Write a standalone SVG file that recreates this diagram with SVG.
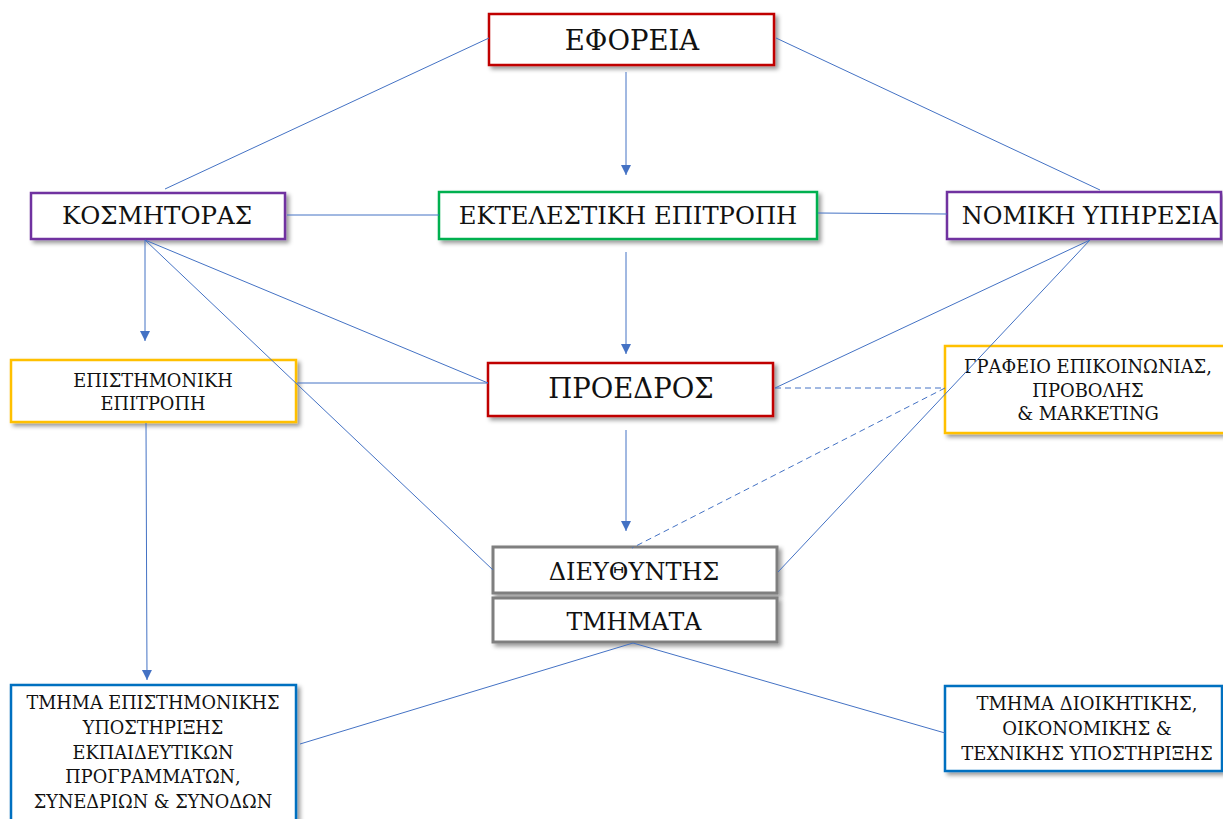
<svg xmlns="http://www.w3.org/2000/svg" width="1223" height="819" viewBox="0 0 1223 819">
<style>
.box{fill:#fff;stroke-width:2.5;filter:url(#sh)}
.red{stroke:#C00000}
.pur{stroke:#7030A0}
.grn{stroke:#00B050}
.yel{stroke:#FFC000}
.gry{stroke:#7F7F7F;stroke-width:3}
.blu{stroke:#0070C0}
.t{font-family:"DejaVu Serif","Liberation Serif",serif;fill:#111;text-anchor:middle}
.c{stroke:#4472C4;stroke-width:1;fill:none}
.d{stroke-dasharray:6,4}
.a{marker-end:url(#ar)}
</style>
<defs>
<filter id="sh" x="-10%" y="-20%" width="130%" height="150%">
<feDropShadow dx="3" dy="3" stdDeviation="2" flood-color="#000" flood-opacity="0.4"/>
</filter>
<marker id="ar" viewBox="0 0 10 10" refX="10" refY="5" markerWidth="10" markerHeight="12" markerUnits="userSpaceOnUse" orient="auto">
<path d="M0,0 L10,5 L0,10 z" fill="#4472C4"/>
</marker>
</defs>
<rect width="1223" height="819" fill="#fff"/>
<g id="eforeia">
<rect class="box red" x="489" y="14" width="285" height="51"/>
<text class="t" x="632" y="50" font-size="27.5">ΕΦΟΡΕΙΑ</text>
</g>
<g id="kosmitoras">
<rect class="box pur" x="31" y="193" width="254" height="46"/>
<text class="t" x="157" y="224" font-size="24.5">ΚΟΣΜΗΤΟΡΑΣ</text>
</g>
<g id="ektelestiki">
<rect class="box grn" x="439" y="192" width="378" height="47"/>
<text class="t" x="628" y="224" font-size="24.3">ΕΚΤΕΛΕΣΤΙΚΗ ΕΠΙΤΡΟΠΗ</text>
</g>
<g id="nomiki">
<rect class="box pur" x="947" y="192" width="274" height="47"/>
<text class="t" x="1090" y="224" font-size="24">ΝΟΜΙΚΗ ΥΠΗΡΕΣΙΑ</text>
</g>
<g id="epistimoniki">
<rect class="box yel" x="11" y="360" width="285" height="62"/>
<text class="t" x="153" y="387" font-size="17.8">ΕΠΙΣΤΗΜΟΝΙΚΗ</text>
<text class="t" x="153" y="410" font-size="17.8">ΕΠΙΤΡΟΠΗ</text>
</g>
<g id="proedros">
<rect class="box red" x="488" y="363" width="285" height="53"/>
<text class="t" x="631" y="398" font-size="27.5">ΠΡΟΕΔΡΟΣ</text>
</g>
<g id="grafeio">
<rect class="box yel" x="945" y="346" width="280" height="87"/>
<text class="t" x="1088" y="373" font-size="17.9">ΓΡΑΦΕΙΟ ΕΠΙΚΟΙΝΩΝΙΑΣ,</text>
<text class="t" x="1088" y="397" font-size="17.9">ΠΡΟΒΟΛΗΣ</text>
<text class="t" x="1088" y="420" font-size="17.9">&amp; MARKETING</text>
</g>
<g id="dieythyntis">
<rect class="box gry" x="493" y="547" width="284" height="46"/>
<text class="t" x="634" y="580" font-size="24">ΔΙΕΥΘΥΝΤΗΣ</text>
</g>
<g id="tmimata">
<rect class="box gry" x="493" y="598" width="284" height="44"/>
<text class="t" x="634" y="630" font-size="23.7">ΤΜΗΜΑΤΑ</text>
</g>
<g id="tmima-epistimonikis">
<rect class="box blu" x="11" y="685" width="285" height="140"/>
<text class="t" x="153" y="709" font-size="17.7">ΤΜΗΜΑ ΕΠΙΣΤΗΜΟΝΙΚΗΣ</text>
<text class="t" x="153" y="734" font-size="17.7">ΥΠΟΣΤΗΡΙΞΗΣ</text>
<text class="t" x="153" y="759" font-size="17.7">ΕΚΠΑΙΔΕΥΤΙΚΩΝ</text>
<text class="t" x="153" y="783" font-size="17.7">ΠΡΟΓΡΑΜΜΑΤΩΝ,</text>
<text class="t" x="153" y="808" font-size="17.7">ΣΥΝΕΔΡΙΩΝ &amp; ΣΥΝΟΔΩΝ</text>
</g>
<g id="tmima-dioikitikis">
<rect class="box blu" x="945" y="686" width="277" height="85"/>
<text class="t" x="1087" y="710" font-size="18">ΤΜΗΜΑ ΔΙΟΙΚΗΤΙΚΗΣ,</text>
<text class="t" x="1087" y="735" font-size="18">ΟΙΚΟΝΟΜΙΚΗΣ &amp;</text>
<text class="t" x="1087" y="760" font-size="18">ΤΕΧΝΙΚΗΣ ΥΠΟΣΤΗΡΙΞΗΣ</text>
</g>
<g id="connectors">
<line class="c" x1="489" y1="38" x2="165" y2="189"/>
<line class="c" x1="776" y1="38" x2="1100" y2="190"/>
<line class="c a" x1="626" y1="72" x2="626" y2="175"/>
<line class="c" x1="287" y1="215" x2="439" y2="215"/>
<line class="c" x1="818" y1="213" x2="947" y2="214"/>
<line class="c a" x1="626" y1="252" x2="626" y2="354"/>
<line class="c a" x1="145" y1="240" x2="145" y2="341"/>
<line class="c" x1="145" y1="240" x2="488" y2="383"/>
<line class="c" x1="145" y1="240" x2="493" y2="570"/>
<line class="c" x1="297" y1="383" x2="488" y2="383"/>
<line class="c" x1="1090" y1="240" x2="775" y2="388"/>
<line class="c" x1="1090" y1="240" x2="778" y2="572"/>
<line class="c d" x1="775" y1="388" x2="945" y2="388"/>
<line class="c d" x1="945" y1="388" x2="632" y2="548"/>
<line class="c a" x1="626" y1="430" x2="626" y2="531"/>
<line class="c a" x1="146" y1="423" x2="147" y2="680"/>
<line class="c" x1="633" y1="643" x2="300" y2="744"/>
<line class="c" x1="633" y1="643" x2="945" y2="733"/>
</g>
</svg>
